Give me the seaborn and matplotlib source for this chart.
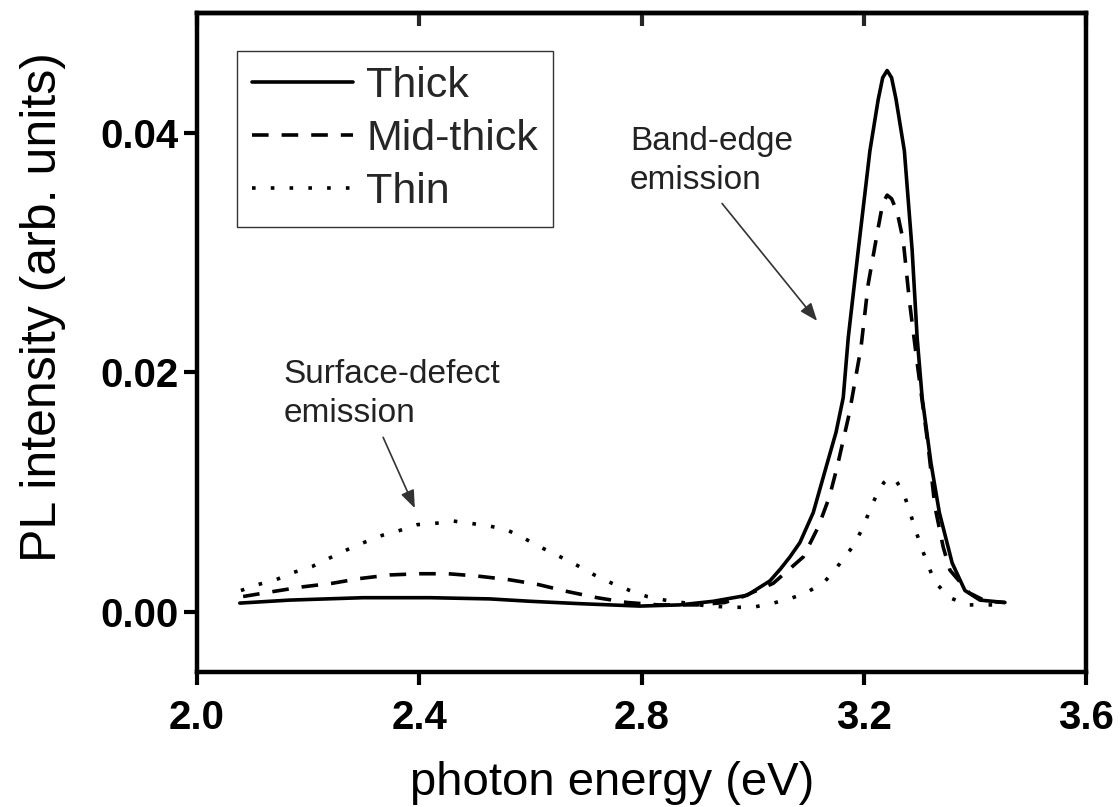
import matplotlib
matplotlib.use("Agg")
import matplotlib.pyplot as plt
import seaborn as sns
from matplotlib.ticker import FormatStrFormatter, FixedLocator

# ---- data ----
thick_x = [2.077, 2.167, 2.299, 2.42, 2.527, 2.60, 2.69, 2.797, 2.869, 2.929, 2.99, 3.031,
           3.05, 3.067, 3.085, 3.109, 3.134, 3.150, 3.163, 3.172, 3.19, 3.211, 3.226, 3.234,
           3.242, 3.250, 3.258, 3.273, 3.287, 3.296, 3.305, 3.321, 3.336, 3.359, 3.382, 3.409,
           3.454]
thick_y = [0.00075, 0.0010, 0.0012, 0.0012, 0.0011, 0.0009, 0.0007, 0.0005, 0.0006, 0.0009,
           0.0014, 0.0026, 0.0036, 0.0046, 0.0058, 0.0083, 0.0124, 0.0150, 0.0179, 0.0229,
           0.0302, 0.0385, 0.0428, 0.0446, 0.0452, 0.0446, 0.0428, 0.0385, 0.0302, 0.0229,
           0.0179, 0.0124, 0.0083, 0.0041, 0.0018, 0.0010, 0.0008]

mid_x = [2.083, 2.135, 2.189, 2.243, 2.293, 2.347, 2.401, 2.452, 2.506, 2.562, 2.614, 2.668,
         2.72, 2.774, 2.83, 2.90, 2.95, 2.983, 3.037, 3.091, 3.118, 3.138, 3.152, 3.174, 3.195,
         3.208, 3.226, 3.234, 3.242, 3.250, 3.26, 3.271, 3.282, 3.296, 3.316, 3.328, 3.343,
         3.355, 3.39, 3.42, 3.454]
mid_y = [0.0013, 0.0017, 0.0021, 0.0024, 0.0028, 0.0031, 0.0032, 0.0032, 0.0030, 0.0027,
         0.0023, 0.0017, 0.0012, 0.0008, 0.0006, 0.0006, 0.0008, 0.0013, 0.0024, 0.0046,
         0.0071, 0.0096, 0.0121, 0.0166, 0.0221, 0.0274, 0.0321, 0.0341, 0.0348, 0.0345,
         0.0334, 0.0310, 0.0260, 0.0208, 0.0138, 0.0088, 0.0054, 0.0035, 0.0016, 0.0009,
         0.0008]

thin_x = [2.079, 2.11, 2.142, 2.173, 2.207, 2.238, 2.27, 2.30, 2.333, 2.364, 2.397, 2.428,
          2.461, 2.493, 2.524, 2.556, 2.587, 2.619, 2.65, 2.684, 2.715, 2.747, 2.779, 2.81,
          2.842, 2.873, 2.92, 2.968, 3.0, 3.033, 3.066, 3.096, 3.129, 3.156, 3.179, 3.197,
          3.21, 3.224, 3.236, 3.247, 3.259, 3.271, 3.282, 3.292, 3.303, 3.314, 3.328, 3.355,
          3.386, 3.418, 3.45]
thin_y = [0.0018, 0.0023, 0.0027, 0.0033, 0.0038, 0.0045, 0.0052, 0.0058, 0.0064, 0.0068,
          0.0073, 0.0074, 0.0076, 0.0074, 0.0072, 0.0069, 0.0062, 0.0054, 0.0047, 0.0039,
          0.0031, 0.0024, 0.0018, 0.0013, 0.0010, 0.0008, 0.0005, 0.0004, 0.0004, 0.0007,
          0.0011, 0.0016, 0.0025, 0.0040, 0.0054, 0.0069, 0.0084, 0.0099, 0.0108, 0.01125,
          0.0109, 0.0100, 0.0085, 0.0070, 0.0055, 0.0041, 0.0025, 0.0012, 0.0006, 0.0006,
          0.0006]

series_labels = ["Thick", "Mid-thick", "Thin"]
x_ticks = [2.0, 2.4, 2.8, 3.2, 3.6]
y_ticks = [0.00, 0.02, 0.04]
x_label = "photon energy (eV)"
y_label = "PL intensity (arb. units)"
note_band = "Band-edge\nemission"
note_surface = "Surface-defect\nemission"

# ---- style ----
sns.set_theme(style="ticks")
plt.rcParams["font.family"] = ["Liberation Sans", "DejaVu Sans"]

fig = plt.figure(figsize=(11.2, 8.07), dpi=100)
ax = fig.add_axes([0.1759, 0.1673, 0.7938, 0.8166])

lw = 2.6
sns.lineplot(x=thick_x, y=thick_y, ax=ax, color="black", lw=lw, estimator=None,
             sort=False, label=series_labels[0])
sns.lineplot(x=mid_x, y=mid_y, ax=ax, color="black", lw=lw, estimator=None,
             sort=False, label=series_labels[1], linestyle=(0, (4.6, 3.6)))
sns.lineplot(x=thin_x, y=thin_y, ax=ax, color="black", lw=lw, estimator=None,
             sort=False, label=series_labels[2], linestyle=(0, (1, 4.2)))

ax.set_xlim(2.0, 3.6)
ax.set_ylim(-0.005, 0.05)
ax.xaxis.set_major_locator(FixedLocator(x_ticks))
ax.yaxis.set_major_locator(FixedLocator(y_ticks))
ax.xaxis.set_major_formatter(FormatStrFormatter("%.1f"))
ax.yaxis.set_major_formatter(FormatStrFormatter("%.2f"))

for sp in ax.spines.values():
    sp.set_visible(True)
    sp.set_linewidth(3.2)
    sp.set_color("black")

ax.tick_params(axis="both", which="major", direction="out", length=9.5, width=3,
               labelsize=29, colors="black")
ax.tick_params(axis="x", pad=10)
ax.tick_params(axis="y", pad=4)
for lab in ax.get_xticklabels() + ax.get_yticklabels():
    lab.set_fontweight("bold")

top = ax.secondary_xaxis("top")
top.xaxis.set_major_locator(FixedLocator(x_ticks))
top.tick_params(direction="in", length=9.5, width=3, labeltop=False)
top.spines["top"].set_linewidth(3.2)

ax.set_xlabel(x_label, fontsize=34, color="black")
ax.set_ylabel(y_label, fontsize=36, color="black")
ax.xaxis.set_label_coords(0.467, -0.135)
ax.yaxis.set_label_coords(-0.147, 0.554)

leg = ax.legend(loc="upper left", bbox_to_anchor=(0.045, 0.942), borderaxespad=0,
                fontsize=31, handlelength=2.35, handletextpad=0.3, labelspacing=0.3,
                frameon=True, fancybox=False, borderpad=0.35)
leg.get_frame().set_edgecolor("black")
leg.get_frame().set_linewidth(1.0)

ax.text(2.779, 0.0353, note_band, fontsize=24, color="#222222", ha="left",
        va="baseline", linespacing=1.33)
ax.text(2.155, 0.01583, note_surface, fontsize=24, color="#222222", ha="left",
        va="baseline", linespacing=1.33)

arrow_kw = dict(arrowstyle="-|>,head_length=0.9,head_width=0.35", color="#333333",
                lw=1.2, shrinkA=0, shrinkB=0)
ax.annotate("", xy=(3.116, 0.0243), xytext=(2.945, 0.0341), arrowprops=arrow_kw)
ax.annotate("", xy=(2.392, 0.00867), xytext=(2.335, 0.01458), arrowprops=arrow_kw)

fig.savefig("out.png", dpi=100)
